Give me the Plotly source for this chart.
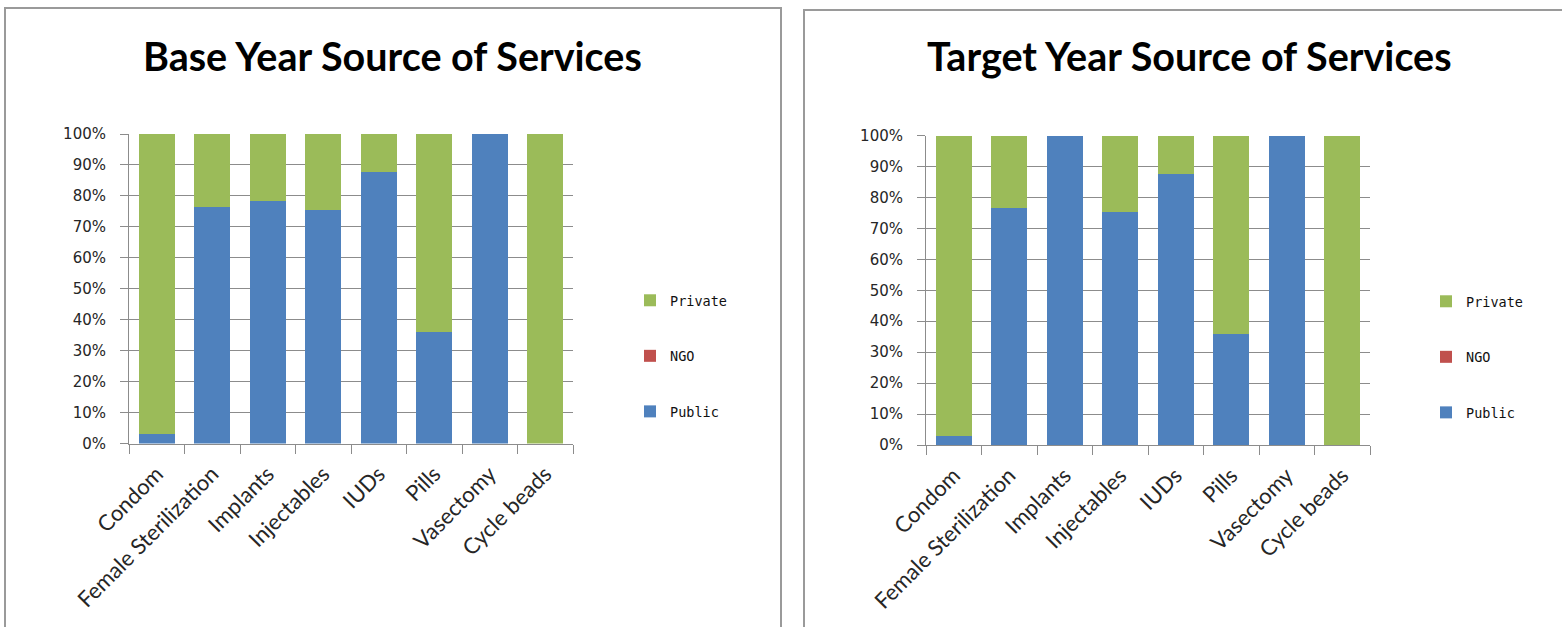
import plotly.graph_objects as go

W, H = 1562, 627

methods = ["Condom", "Female Sterilization", "Implants", "Injectables",
           "IUDs", "Pills", "Vasectomy", "Cycle beads"]

# Share of each method by source of supply (fractions of 1)
base_public = [0.030, 0.765, 0.783, 0.754, 0.876, 0.360, 1.000, 0.000]
base_ngo = [0, 0, 0, 0, 0, 0, 0, 0]
base_private = [0.970, 0.235, 0.217, 0.246, 0.124, 0.640, 0.000, 1.000]

target_public = [0.029, 0.765, 1.000, 0.754, 0.876, 0.360, 1.000, 0.000]
target_ngo = [0, 0, 0, 0, 0, 0, 0, 0]
target_private = [0.971, 0.235, 0.000, 0.246, 0.124, 0.640, 0.000, 1.000]

titles = ["Base Year Source of Services", "Target Year Source of Services"]

COL_PUBLIC = "#4F81BD"
COL_NGO = "#C0504D"
COL_PRIVATE = "#9BBB59"
GRID = "#8C8C8C"
TEXT = "#262626"


def px_x(x):
    return x / W


def px_y(y):
    return 1 - y / H


fig = go.Figure()

# legend rank: Private listed first, Public last
ranks = {"Private": 1, "NGO": 2, "Public": 3}

panels = [
    ("x", "y", "legend", base_public, base_ngo, base_private),
    ("x2", "y2", "legend2", target_public, target_ngo, target_private),
]
for xa, ya, lg, pub, ngo, pri in panels:
    for name, vals, col in (("Public", pub, COL_PUBLIC),
                            ("NGO", ngo, COL_NGO),
                            ("Private", pri, COL_PRIVATE)):
        fig.add_trace(go.Bar(
            x=methods, y=vals, name=name, marker_color=col,
            marker_line_width=0, xaxis=xa, yaxis=ya, legend=lg,
            legendgroup=f"{lg}-{name}", legendrank=ranks[name],
        ))

axis_common_x = dict(
    type="category", showgrid=False, showline=True, linecolor=GRID,
    linewidth=1, ticks="outside", ticklen=9, tickcolor=GRID,
    tickson="boundaries", tickangle=-45, automargin=False,
    ticklabelstandoff=8,
    tickfont=dict(family="Lato", size=22, color=TEXT), fixedrange=True,
)
axis_common_y = dict(
    range=[0, 1], dtick=0.1, tickformat=".0%", showgrid=True,
    gridcolor=GRID, gridwidth=1, showline=True, linecolor=GRID,
    linewidth=1, ticks="outside", ticklen=8, tickcolor=GRID,
    automargin=False, ticklabelstandoff=11,
    tickfont=dict(family="DejaVu Sans", size=15, color=TEXT),
    zeroline=False, fixedrange=True,
)

legend_common = dict(
    traceorder="grouped", tracegroupgap=35,
    font=dict(family="DejaVu Sans Mono", size=13.5, color="#111111"),
    bgcolor="rgba(0,0,0,0)", xanchor="left", yanchor="top",
)

fig.update_layout(
    width=W, height=H, margin=dict(l=0, r=0, t=0, b=0, autoexpand=False),
    paper_bgcolor="white", plot_bgcolor="white",
    barmode="stack", bargap=0.357, showlegend=True,
    xaxis=dict(domain=[px_x(129), px_x(573)], anchor="y", **axis_common_x),
    yaxis=dict(domain=[px_y(443.5), px_y(134)], anchor="x", **axis_common_y),
    xaxis2=dict(domain=[px_x(926), px_x(1370)], anchor="y2", **axis_common_x),
    yaxis2=dict(domain=[px_y(445), px_y(135.5)], anchor="x2", **axis_common_y),
    legend=dict(x=px_x(630), y=px_y(285), **legend_common),
    legend2=dict(x=px_x(1426), y=px_y(286), **legend_common),
)

# Chart frames around each panel
fig.add_shape(type="rect", xref="paper", yref="paper",
              x0=px_x(5), x1=px_x(781), y0=px_y(640), y1=px_y(8),
              line=dict(color="#9A9A9A", width=2), layer="below")
fig.add_shape(type="rect", xref="paper", yref="paper",
              x0=px_x(804), x1=px_x(1580), y0=px_y(640), y1=px_y(10),
              line=dict(color="#9A9A9A", width=2), layer="below")

# Panel titles
for cx, text in ((392, titles[0]), (1189, titles[1])):
    fig.add_annotation(
        x=px_x(cx), y=px_y(55), xref="paper", yref="paper",
        text=f"<b>{text}</b>", showarrow=False,
        xanchor="center", yanchor="middle",
        font=dict(family="Lato", size=39.5, color="#000000"),
    )

fig.write_html("out.html")
